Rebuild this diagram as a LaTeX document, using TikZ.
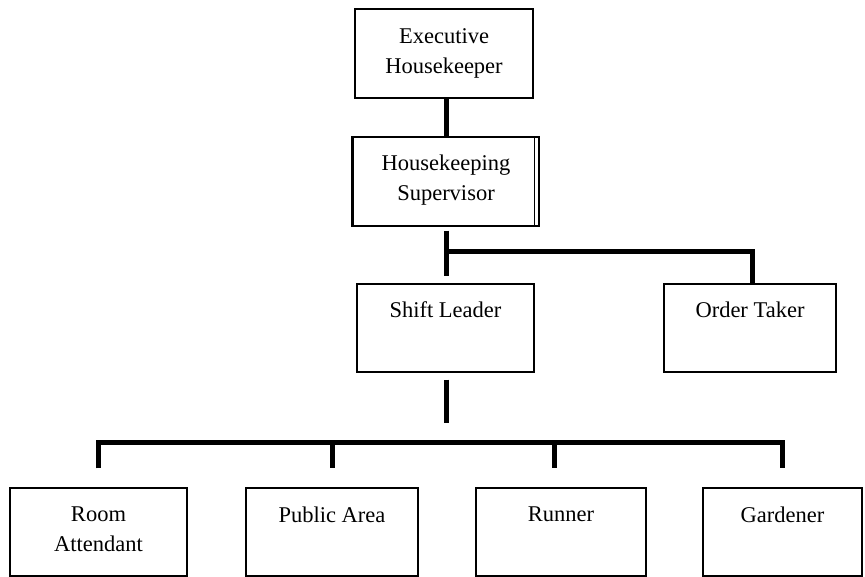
\documentclass[tikz,border=0pt]{standalone}
\usepackage{fontspec}
\setmainfont{Liberation Serif}
\usetikzlibrary{positioning}

\begin{document}
\begin{tikzpicture}[x=1pt,y=-1pt]
      \tikzstyle{pnode} = [draw=black, line width=1.3pt, rectangle, inner sep=0pt, minimum height=88pt]
      \tikzstyle{tnode} = [inner sep=0pt, align=center, font=\fontsize{22.5}{30}\selectfont]
      \tikzstyle{link} = [line width=5pt]

      \useasboundingbox (0,0) rectangle (865,577);

      \node[pnode, minimum width=178pt, minimum height=89pt] (exec) at (444,53.5) {};
      \node[pnode, minimum width=186pt, minimum height=89pt] (sup) at (446,181.5) {};
      \node[pnode, minimum width=177pt] (shift) at (445.5,328) {};
      \node[pnode, minimum width=172pt] (order) at (750,328) {};

      \node[pnode, minimum width=177pt] (room) at (98.5,532) {};
      \node[pnode, minimum width=172pt] (public) at (332,532) {};
      \node[pnode, minimum width=170pt] (runner) at (561,532) {};
      \node[pnode, minimum width=159pt] (garden) at (782.5,532) {};

      \node[tnode, below=20pt of exec.north] (exect) {Executive\\Housekeeper};
      \node[tnode, below=18pt of sup.north] (supt) {Housekeeping\\Supervisor};
      \node[tnode, below=18pt of shift.north] (shiftt) {Shift Leader};
      \node[tnode, below=18pt of order.north] (ordert) {Order Taker};
      \node[tnode, below=19pt of room.north] (roomt) {Room\\Attendant};
      \node[tnode, below=19pt of public.north] (publict) {Public Area};
      \node[tnode, below=19pt of runner.north] (runnert) {Runner};
      \node[tnode, below=19pt of garden.north] (gardent) {Gardener};

      % double right edge and heavier left edge of the supervisor box
      \draw[line width=1.3pt] ([xshift=-5pt]sup.north east) -- ([xshift=-5pt]sup.south east);
      \draw[line width=2.5pt] (sup.north west) -- (sup.south west);

      \coordinate (split) at (446,252);
      \coordinate (drop) at (446,423);
      \coordinate (bus) at (0,442);

      \draw[link] ([xshift=2pt]exec.south) -- ([xshift=2pt]exec.south |- sup.north);
      \draw[link] ([yshift=-4pt]sup.south) -- ([yshift=7pt]sup.south |- shift.north);
      \draw[link] (split) -| ([xshift=2pt]order.north);
      \draw[link] ([yshift=-7pt]drop |- shift.south) -- (drop);

      \draw[link] ([yshift=19pt]room.north) -- (room.north |- bus) -- (garden.north |- bus) -- ([yshift=19pt]garden.north);
      \draw[link] (public.north |- bus) -- ([yshift=19pt]public.north);
      \draw[link] ([xshift=-7pt]runner.north |- bus) -- ([xshift=-7pt,yshift=19pt]runner.north);
\end{tikzpicture}
\end{document}
